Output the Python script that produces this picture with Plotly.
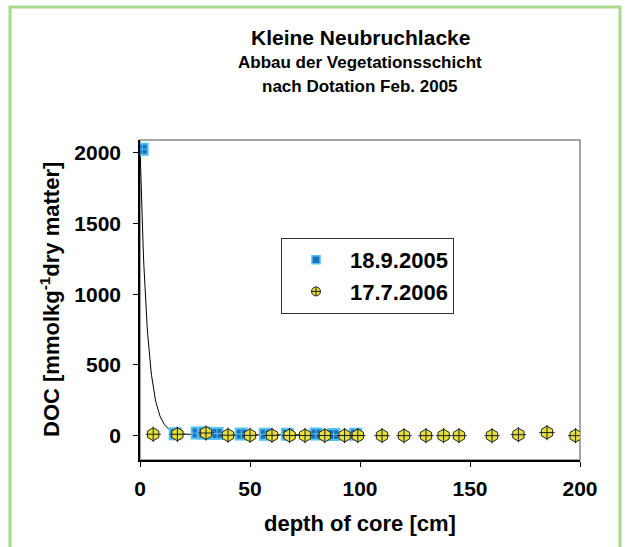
import numpy as np
import plotly.graph_objects as go

# DOC profile, sampling of 18.9.2005
depth_2005 = [1, 16, 26, 29, 32, 35, 46, 57, 67, 80, 88, 98]
doc_2005 = [2025, 14, 18, 18, 16, 15, 12, 10, 10, 12, 9, 10]

# DOC profile, sampling of 17.7.2006
depth_2006 = [6, 17, 30, 40, 50, 60, 68, 75, 84, 93, 99, 110, 120, 130, 138, 145, 160, 172, 185, 198]
doc_2006 = [10, 10, 19, 3, 2, 2, 1, 1, 1, 1, 1, 0, 0, 0, 0, 0, 0, 7, 22, 0]

# exponential decay trendline through the 2005 profile
fit_a, fit_k, fit_c = 2030.0, 0.30, 6.0
fit_x = np.linspace(0, 100, 400)
fit_y = fit_a * np.exp(-fit_k * fit_x) + fit_c

FONT = "Liberation Sans, Arial, sans-serif"
BLUE_FILL = "#1d6fbf"
BLUE_EDGE = "#52c3ef"
YELLOW = "#e6df3a"

# plot area in pixels (used to place paper-referenced decorations)
PX_L, PX_R, PX_T, PX_B = 140, 580, 140, 460
PW, PH = PX_R - PX_L, PX_B - PX_T


def px_x(px):
    return (px - PX_L) / PW


def px_y(py):
    return (PX_B - py) / PH


fig = go.Figure()

fig.add_trace(go.Scatter(
    x=fit_x, y=fit_y, mode="lines",
    line=dict(color="black", width=1), showlegend=False, hoverinfo="skip"))

fig.add_trace(go.Scatter(
    x=depth_2005, y=doc_2005, mode="markers", showlegend=False,
    marker=dict(symbol="square", size=11, color=BLUE_FILL,
                line=dict(color=BLUE_EDGE, width=2))))
fig.add_trace(go.Scatter(
    x=depth_2005, y=doc_2005, mode="markers", showlegend=False, hoverinfo="skip",
    marker=dict(symbol="cross-thin", size=9, line=dict(color=BLUE_EDGE, width=1))))

fig.add_trace(go.Scatter(
    x=depth_2006, y=doc_2006, mode="markers", showlegend=False,
    marker=dict(symbol="hexagon", size=13, color=YELLOW,
                line=dict(color="#222222", width=1))))
fig.add_trace(go.Scatter(
    x=depth_2006, y=doc_2006, mode="markers", showlegend=False, hoverinfo="skip",
    marker=dict(symbol="cross-thin", size=11, line=dict(color="#222222", width=1))))

# legend entries
fig.add_trace(go.Scatter(
    x=[None], y=[None], mode="markers", name="18.9.2005",
    marker=dict(symbol="square", size=8, color=BLUE_FILL,
                line=dict(color=BLUE_EDGE, width=1.5))))
fig.add_trace(go.Scatter(
    x=[None], y=[None], mode="markers", name="17.7.2006",
    marker=dict(symbol="circle-cross", size=9, color=YELLOW,
                line=dict(color="#222222", width=1))))

fig.update_layout(
    width=629, height=547,
    margin=dict(l=PX_L, r=629 - PX_R, t=PX_T, b=547 - PX_B),
    paper_bgcolor="white", plot_bgcolor="white",
    font=dict(family=FONT, color="black"),
    showlegend=True,
    legend=dict(x=px_x(281), y=px_y(238), xanchor="left", yanchor="top",
                bgcolor="white", bordercolor="#333333", borderwidth=1,
                font=dict(family=FONT, size=22, color="black", weight="bold"),
                itemwidth=58, tracegroupgap=0),
    xaxis=dict(range=[0, 200], tickvals=[0, 50, 100, 150, 200],
               showline=True, linecolor="black", linewidth=1.5,
               ticks="outside", ticklen=5, tickcolor="black",
               showgrid=False, zeroline=False, ticklabelstandoff=4,
               tickfont=dict(family=FONT, size=21, weight="bold")),
    yaxis=dict(range=[-172, 2090], tickvals=[0, 500, 1000, 1500, 2000],
               showline=True, linecolor="black", linewidth=1.5,
               ticks="outside", ticklen=5, tickcolor="black",
               showgrid=False, zeroline=False, ticklabelstandoff=8,
               tickfont=dict(family=FONT, size=21, weight="bold")),
    shapes=[
        dict(type="rect", xref="paper", yref="paper", x0=0, x1=1, y0=0, y1=1,
             line=dict(color="#888888", width=1.5), layer="below"),
        dict(type="rect", xref="paper", yref="paper",
             x0=px_x(10), x1=px_x(620), y0=px_y(560), y1=px_y(7),
             line=dict(color="#a9d98e", width=3), layer="below"),
    ],
    annotations=[
        dict(text="<b>Kleine Neubruchlacke</b>", xref="paper", yref="paper",
             x=0.5, y=px_y(37), yanchor="middle", showarrow=False,
             font=dict(family=FONT, size=21)),
        dict(text="<b>Abbau der Vegetationsschicht</b>", xref="paper", yref="paper",
             x=0.5, y=px_y(63), yanchor="middle", showarrow=False,
             font=dict(family=FONT, size=17)),
        dict(text="<b>nach Dotation Feb. 2005</b>", xref="paper", yref="paper",
             x=0.5, y=px_y(86), yanchor="middle", showarrow=False,
             font=dict(family=FONT, size=17)),
        dict(text="<b>depth of core [cm]</b>", xref="paper", yref="paper",
             x=0.5, y=px_y(523), yanchor="middle", showarrow=False,
             font=dict(family=FONT, size=22)),
        dict(text="<b>DOC [mmolkg<sup>-1</sup>dry matter]</b>", xref="paper", yref="paper",
             x=px_x(50), y=0.5, xanchor="center", yanchor="middle", textangle=-90,
             showarrow=False, font=dict(family=FONT, size=22)),
    ],
)

fig.write_html("out.html")
